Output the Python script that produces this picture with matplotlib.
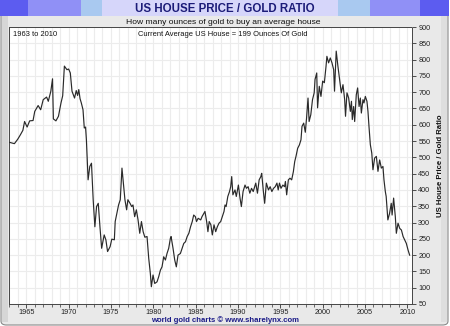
import matplotlib
matplotlib.use("Agg")
import matplotlib.pyplot as plt
from matplotlib.patches import Rectangle, FancyBboxPatch
import numpy as np

years = [1963.03, 1963.6, 1964.0, 1964.3, 1964.6, 1964.8, 1965.1, 1965.4, 1965.8, 1966.0,
         1966.4, 1966.7, 1967.0, 1967.4, 1967.6, 1967.9, 1968.1, 1968.2, 1968.5, 1968.8,
         1969.1, 1969.3, 1969.5, 1969.8, 1970.0, 1970.2, 1970.4, 1970.7, 1970.9, 1971.06,
         1971.2, 1971.35, 1971.5, 1971.7, 1971.85, 1972.0, 1972.1, 1972.3, 1972.5, 1972.7,
         1972.9, 1973.1, 1973.3, 1973.5, 1973.7, 1973.9, 1974.2, 1974.4, 1974.6, 1974.9,
         1975.1, 1975.4, 1975.5, 1975.7, 1975.9, 1976.1, 1976.3, 1976.5, 1976.65, 1976.85,
         1977.0, 1977.25, 1977.45, 1977.6, 1977.8, 1978.0, 1978.2, 1978.4, 1978.6, 1978.8,
         1979.0, 1979.26, 1979.46, 1979.65, 1979.77, 1979.97, 1980.17, 1980.44, 1980.64, 1980.84,
         1981.03, 1981.23, 1981.43, 1981.62, 1981.82, 1982.02, 1982.1, 1982.33, 1982.53, 1982.72,
         1982.92, 1983.2, 1983.4, 1983.6, 1983.8, 1984.0, 1984.2, 1984.4, 1984.6, 1984.77,
         1984.97, 1985.1, 1985.3, 1985.6, 1985.75, 1986.1, 1986.3, 1986.45, 1986.6, 1986.8,
         1986.97, 1987.17, 1987.37, 1987.56, 1987.76, 1987.96, 1988.15, 1988.35, 1988.47, 1988.6,
         1988.8, 1989.0, 1989.14, 1989.26, 1989.4, 1989.65, 1989.8, 1990.05, 1990.24, 1990.4,
         1990.6, 1990.83, 1991.0, 1991.2, 1991.4, 1991.6, 1991.8, 1992.1, 1992.3, 1992.5,
         1992.7, 1992.8, 1993.0, 1993.15, 1993.35, 1993.6, 1993.8, 1994.0, 1994.2, 1994.4,
         1994.6, 1994.75, 1994.9, 1995.08, 1995.3, 1995.5, 1995.6, 1995.75, 1995.95, 1996.14,
         1996.34, 1996.54, 1996.7, 1996.85, 1997.05, 1997.25, 1997.44, 1997.56, 1997.76, 1997.95,
         1998.1, 1998.27, 1998.4, 1998.6, 1998.8, 1999.0, 1999.1, 1999.3, 1999.4, 1999.6,
         1999.8, 2000.0, 2000.2, 2000.4, 2000.5, 2000.7, 2000.9, 2001.1, 2001.3, 2001.4,
         2001.6, 2001.8, 2002.0, 2002.2, 2002.4, 2002.6, 2002.7, 2002.87, 2003.07, 2003.27,
         2003.4, 2003.5, 2003.66, 2003.78, 2003.97, 2004.13, 2004.3, 2004.45, 2004.57, 2004.76,
         2004.88, 2005.04, 2005.23, 2005.35, 2005.47, 2005.63, 2005.8, 2005.94, 2006.14, 2006.34,
         2006.53, 2006.73, 2006.93, 2007.12, 2007.24, 2007.4, 2007.5, 2007.7, 2007.9, 2008.1,
         2008.2, 2008.38, 2008.58, 2008.7, 2008.9, 2009.1, 2009.3, 2009.5, 2009.68, 2009.88,
         2010.08, 2010.27]

ratio = [546, 542, 556, 569, 583, 610, 593, 612, 613, 641,
         659, 646, 677, 685, 672, 703, 741, 618, 612, 626,
         667, 689, 780, 769, 771, 759, 703, 682, 705, 690,
         708, 680, 667, 646, 590, 593, 554, 431, 472, 482,
         370, 287, 349, 359, 287, 221, 262, 247, 211, 226,
         249, 247, 303, 328, 354, 370, 467, 410, 370, 339,
         370, 359, 349, 354, 318, 339, 308, 267, 303, 272,
         255, 257, 190, 144, 103, 139, 113, 118, 134, 154,
         164, 195, 185, 205, 221, 252, 257, 221, 185, 164,
         200, 205, 221, 236, 241, 257, 267, 287, 303, 323,
         318, 303, 313, 308, 318, 334, 303, 272, 303, 293,
         262, 293, 272, 287, 298, 303, 318, 334, 354, 349,
         380, 395, 410, 441, 385, 400, 380, 415, 375, 349,
         395, 415, 405, 410, 390, 405, 395, 421, 390, 431,
         441, 451, 395, 359, 421, 400, 410, 395, 405, 410,
         421, 400, 421, 405, 415, 410, 426, 385, 431, 436,
         431, 456, 487, 503, 528, 538, 554, 595, 605, 577,
         621, 682, 610, 631, 677, 698, 739, 759, 652, 718,
         687, 734, 729, 780, 810, 790, 805, 790, 769, 703,
         826, 780, 739, 698, 723, 677, 626, 698, 682, 641,
         672, 616, 656, 610, 692, 713, 656, 682, 636, 677,
         667, 687, 672, 641, 595, 539, 513, 462, 498, 503,
         457, 492, 467, 472, 431, 395, 380, 308, 328, 359,
         323, 375, 318, 267, 298, 282, 277, 257, 247, 236,
         216, 200]

x_ticks = [1965, 1970, 1975, 1980, 1985, 1990, 1995, 2000, 2005, 2010]
y_ticks = list(range(50, 901, 50))

W, H = 450, 326
fig = plt.figure(figsize=(W / 100, H / 100), dpi=100)
fig.patch.set_facecolor("white")

def fx(px):
    return px / W

def fy(py):
    return 1 - py / H

# outer frame
frame = FancyBboxPatch((fx(1), fy(325)), fx(447), 323 / H,
                       boxstyle="round,pad=0,rounding_size=0.012",
                       transform=fig.transFigure, facecolor="#e9e9e9",
                       edgecolor="#8a8a8a", linewidth=0.8, zorder=0)
fig.patches.append(frame)
# left darker strip
fig.patches.append(Rectangle((fx(1.5), fy(322)), fx(6), 306 / H, transform=fig.transFigure,
                             facecolor="#d6d6d6", edgecolor="none", zorder=0.5))
# right darker strip
fig.patches.append(Rectangle((fx(441), fy(322)), fx(6), 306 / H, transform=fig.transFigure,
                             facecolor="#dedede", edgecolor="none", zorder=0.5))
# title bar segments
segs = [(0, 28, "#5c5cf0"), (28, 81, "#9090f6"), (81, 102, "#a9c9f0"), (102, 338, "#d6d6fa"),
        (338, 370, "#a9c9f0"), (370, 420, "#9090f6"), (420, 449, "#5c5cf0")]
for a, b, c in segs:
    fig.patches.append(Rectangle((fx(a), fy(16)), fx(b - a), 16 / H, transform=fig.transFigure,
                                 facecolor=c, edgecolor="none", zorder=1))

fig.text(fx(225), fy(8.5), "US HOUSE PRICE / GOLD RATIO", ha="center", va="center",
         fontsize=8.3, fontweight="bold", color="#1c1c78", family="Liberation Sans", zorder=3)
fig.text(fx(223), fy(22), "How many ounces of gold to buy an average house", ha="center",
         va="center", fontsize=6.1, color="#111111", family="Liberation Sans", zorder=3)
fig.text(fx(225), fy(320.5), "world gold charts \u00a9 www.sharelynx.com", ha="center",
         va="center", fontsize=5.6, fontweight="bold", color="#1c1c88", family="Liberation Sans",
         zorder=3)

ax = fig.add_axes([fx(9), fy(304), fx(403), 277 / H])
ax.set_zorder(5)
ax.set_facecolor("white")
ax.plot(years, ratio, color="#2a2a2a", linewidth=0.85, zorder=3)

ax.set_xlim(1962.96, 2010.55)
ax.set_ylim(50, 900)
ax.set_xticks(x_ticks)
ax.set_xticklabels([str(t) for t in x_ticks])
ax.set_xticks(np.arange(1963, 2011, 1), minor=True)
ax.set_yticks(y_ticks)
ax.set_yticklabels([str(t) for t in y_ticks])
ax.yaxis.tick_right()
ax.yaxis.set_label_position("right")
ax.tick_params(axis="both", which="major", labelsize=5.2, length=3, width=0.6,
               color="#333333", labelcolor="#222222", pad=1.5)
ax.tick_params(axis="x", which="major", pad=0.8)
ax.tick_params(axis="x", which="minor", length=2, width=0.5, color="#333333")
for lab in ax.get_xticklabels() + ax.get_yticklabels():
    lab.set_family("Liberation Sans")
ax.grid(True, which="both", color="#ececec", linewidth=0.8, zorder=0)
ax.set_axisbelow(True)
for s in ax.spines.values():
    s.set_color("#444444")
    s.set_linewidth(0.7)
    s.set_linestyle((0, (1.5, 1)))
ax.set_ylabel("US House Price / Gold Ratio", fontsize=5.6, fontweight="bold",
              family="Liberation Sans", color="#111111", labelpad=5)

ax.text(0.01, 0.985, "1963 to 2010", transform=ax.transAxes, ha="left", va="top",
        fontsize=5.4, color="#111111", family="Liberation Sans")
ax.text(0.53, 0.985, "Current Average US House = 199 Ounces Of Gold", transform=ax.transAxes,
        ha="center", va="top", fontsize=5.4, color="#111111", family="Liberation Sans")

fig.savefig("out.png", dpi=100, facecolor=fig.get_facecolor())
